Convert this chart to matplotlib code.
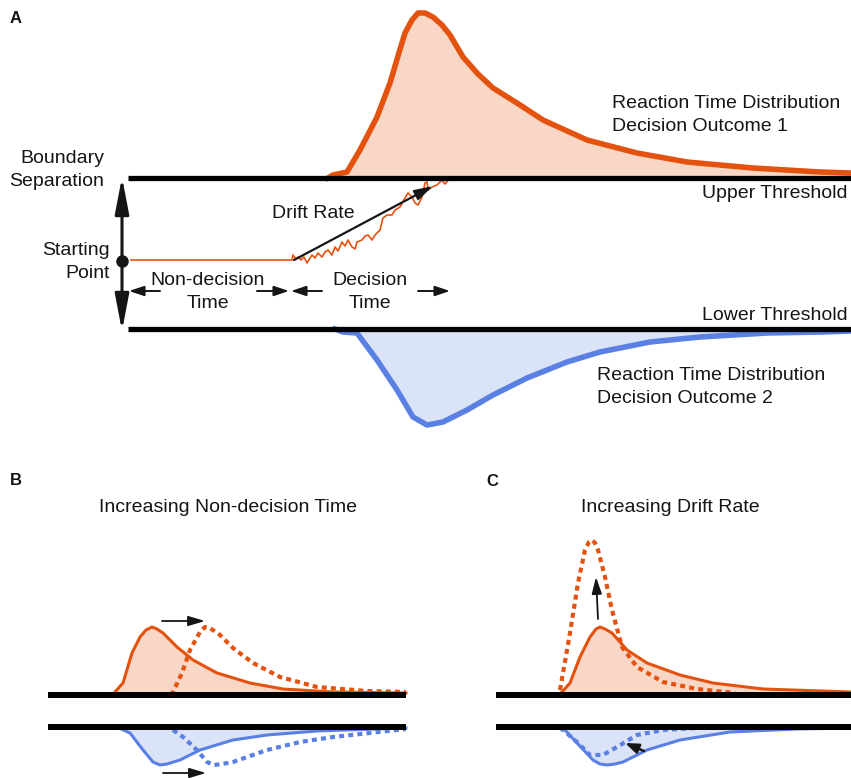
import matplotlib.pyplot as plt
import numpy as np

plt.rcParams['font.family'] = ['Liberation Sans', 'DejaVu Sans']

ORANGE = '#E4520F'
ORANGE_FILL = '#F9D7C7'
BLUE = '#5A80E4'
BLUE_FILL = '#DAE3F8'
INK = '#151515'

# ---- panel A: RT densities (time, height away from the threshold) ----
a_up_t = [328, 333, 347, 360, 377, 390, 398, 405, 412, 418, 425, 433, 442, 450, 463, 478, 493, 517, 543, 587, 637, 687, 753, 820, 851]
a_up_h = [0, 3, 6, 28, 61, 95, 122, 145, 158, 165, 165, 161, 153, 143, 121, 104, 90, 75, 58, 38, 25, 16, 10, 6, 5]
a_lo_t = [335, 343, 357, 377, 397, 413, 427, 443, 467, 493, 527, 567, 600, 650, 700, 767, 823, 851]
a_lo_h = [0, 3, 4, 31, 61, 88, 96, 93, 81, 66, 49, 33, 23, 13, 8, 4, 3, 2]

# single diffusion trace (time, evidence)
walk_t = [131, 292, 293, 296, 298, 301, 304, 307, 312, 315, 318, 322, 325, 328, 332, 335, 338, 342,
          345, 348, 352, 355, 357, 362, 365, 368, 372, 375, 380, 383, 387, 392, 395, 400, 405, 408,
          412, 415, 418, 422, 425, 427, 428, 432, 437, 442, 445, 450]
walk_e = [260, 260, 255, 259, 257, 260, 257, 263, 255, 258, 253, 257, 252, 250, 255, 247, 251, 242,
          246, 240, 247, 249, 242, 240, 236, 235, 240, 235, 230, 218, 215, 215, 210, 207, 198, 193,
          197, 203, 205, 197, 183, 182, 190, 187, 185, 180, 184, 178]

# ---- panel B: non-decision time shift ----
b_up_t = [113, 115, 123, 132, 140, 146, 152, 157, 163, 177, 193, 217, 250, 283, 333, 406]
b_up_h = [0, 3, 12, 42, 58, 65, 68, 66, 62, 48, 35, 22, 12, 6, 3, 2]
b_up2_t = [171, 173, 182, 190, 200, 205, 210, 220, 233, 253, 280, 317, 367, 406]
b_up2_h = [0, 3, 22, 45, 63, 68, 67, 60, 47, 32, 18, 8, 4, 3]
b_lo_t = [117, 130, 143, 153, 160, 167, 180, 200, 233, 267, 317, 406]
b_lo_h = [0, 6, 23, 35, 38, 37, 33, 23, 13, 8, 4, 1]
b_lo2_t = [173, 183, 197, 207, 214, 222, 233, 267, 300, 333, 406]
b_lo2_h = [3, 10, 23, 35, 38, 37, 35, 23, 15, 10, 2]

# ---- panel C: drift rate increase ----
c_up_t = [558, 562, 570, 580, 590, 596, 600, 605, 612, 627, 647, 680, 713, 763, 851]
c_up_h = [0, 3, 12, 38, 58, 66, 68, 66, 62, 45, 32, 20, 12, 6, 3]
c_up2_t = [560, 563, 570, 578, 585, 589, 592, 595, 598, 605, 612, 622, 637, 663, 697, 735]
c_up2_h = [5, 22, 62, 112, 145, 153, 155, 152, 145, 118, 85, 48, 28, 13, 6, 2]
c_lo_t = [558, 563, 577, 593, 600, 607, 615, 623, 647, 680, 730, 797, 851]
c_lo_h = [0, 1, 16, 33, 37, 38, 37, 35, 23, 13, 5, 2, 1]
c_lo2_t = [560, 563, 577, 590, 603, 617, 637, 663, 697]
c_lo2_h = [1, 3, 15, 28, 28, 20, 8, 3, 1]

fig = plt.figure(figsize=(8.51, 7.78), dpi=100)
ax = fig.add_axes([0, 0, 1, 1])
ax.set_xlim(0, 851)
ax.set_ylim(778, 0)
ax.axis('off')

DOTS = (0, (1.2, 1.0))


def density(t, h, base, sign, color, fill=None, lw=2.2, ls='-'):
    t = np.asarray(t)
    y = base - sign * np.asarray(h)
    if fill is not None:
        ax.fill_between(t, base, y, color=fill, lw=0, zorder=1)
    ax.plot(t, y, color=color, lw=lw, ls=ls, solid_joinstyle='round',
            dash_capstyle='butt', zorder=3)


def arrow(x0, y0, x1, y1, hl=0.9, hw=0.3, lw=1.4, style='-|>', ms=10):
    ax.annotate('', xy=(x1, y1), xytext=(x0, y0),
                arrowprops=dict(arrowstyle=f'{style},head_length={hl},head_width={hw}',
                                color=INK, lw=lw, shrinkA=0, shrinkB=0,
                                mutation_scale=ms), zorder=5)


# ---- panel A ----
up_a, lo_a = 178, 329
density(a_up_t, a_up_h, up_a, 1, ORANGE, ORANGE_FILL, lw=4.0)
density(a_lo_t, a_lo_h, lo_a, -1, BLUE, BLUE_FILL, lw=4.0)
ax.plot([128, 851], [up_a, up_a], color='black', lw=3.8, solid_capstyle='butt', zorder=4)
ax.plot([128, 851], [lo_a, lo_a], color='black', lw=3.8, solid_capstyle='butt', zorder=4)
ax.plot(walk_t, walk_e, color=ORANGE, lw=1.2, zorder=3)
arrow(294, 260, 433, 186, hl=1.1, hw=0.32, lw=1.6)

arrow(122, 261, 122, 177, hl=2.2, hw=0.42, lw=2.2)
arrow(122, 261, 122, 331, hl=2.2, hw=0.42, lw=2.2)
ax.plot([122], [261], 'o', color=INK, ms=8, zorder=6)

for x0, x1 in [(160, 129), (257, 289), (322, 291), (418, 450)]:
    arrow(x0, 291, x1, 291, hl=0.9, hw=0.3, lw=1.4)

fs = 14
ls2 = 1.45
tk = dict(fontsize=fs, color=INK, va='center')
ax.text(10, 18, 'A', fontsize=12, fontweight='bold', color=INK, va='center')
ax.text(104, 170, 'Boundary\nSeparation', ha='right', linespacing=ls2, **tk)
ax.text(110, 262, 'Starting\nPoint', ha='right', linespacing=ls2, **tk)
ax.text(208, 292, 'Non-decision\nTime', ha='center', linespacing=ls2, **tk)
ax.text(370, 292, 'Decision\nTime', ha='center', linespacing=ls2, **tk)
ax.text(272, 213, 'Drift Rate', ha='left', **tk)
ax.text(612, 115, 'Reaction Time Distribution\nDecision Outcome 1', ha='left', linespacing=ls2, **tk)
ax.text(848, 193, 'Upper Threshold', ha='right', **tk)
ax.text(848, 315, 'Lower Threshold', ha='right', **tk)
ax.text(597, 387, 'Reaction Time Distribution\nDecision Outcome 2', ha='left', linespacing=ls2, **tk)

# ---- panel B ----
up_b, lo_b = 695, 727
density(b_up_t, b_up_h, up_b, 1, ORANGE, ORANGE_FILL)
density(b_up2_t, b_up2_h, up_b, 1, ORANGE, lw=3.0, ls=DOTS)
density(b_lo_t, b_lo_h, lo_b, -1, BLUE, BLUE_FILL)
density(b_lo2_t, b_lo2_h, lo_b, -1, BLUE, lw=3.0, ls=DOTS)
ax.plot([48, 406], [up_b, up_b], color='black', lw=4.3, solid_capstyle='butt', zorder=4)
ax.plot([48, 406], [lo_b, lo_b], color='black', lw=4.3, solid_capstyle='butt', zorder=4)
arrow(162, 621, 205, 621, hl=1.0, hw=0.3, lw=1.3)
arrow(163, 773, 206, 773, hl=1.0, hw=0.3, lw=1.3)
ax.text(10, 480, 'B', fontsize=12, fontweight='bold', color=INK, va='center')
ax.text(228, 508, 'Increasing Non-decision Time', ha='center', **tk)

# ---- panel C ----
density(c_up_t, c_up_h, up_b, 1, ORANGE, ORANGE_FILL)
density(c_up2_t, c_up2_h, up_b, 1, ORANGE, lw=3.0, ls=DOTS)
density(c_lo_t, c_lo_h, lo_b, -1, BLUE, BLUE_FILL)
density(c_lo2_t, c_lo2_h, lo_b, -1, BLUE, lw=3.0, ls=DOTS)
ax.plot([496, 851], [up_b, up_b], color='black', lw=4.3, solid_capstyle='butt', zorder=4)
ax.plot([496, 851], [lo_b, lo_b], color='black', lw=4.3, solid_capstyle='butt', zorder=4)
arrow(598, 619, 596, 577, hl=1.0, hw=0.3, lw=1.3)
arrow(644, 751, 625, 743, hl=0.8, hw=0.3, lw=1.8)
ax.text(486, 481, 'C', fontsize=12, fontweight='bold', color=INK, va='center')
ax.text(670, 508, 'Increasing Drift Rate', ha='center', **tk)

fig.savefig('out.png', dpi=100)
